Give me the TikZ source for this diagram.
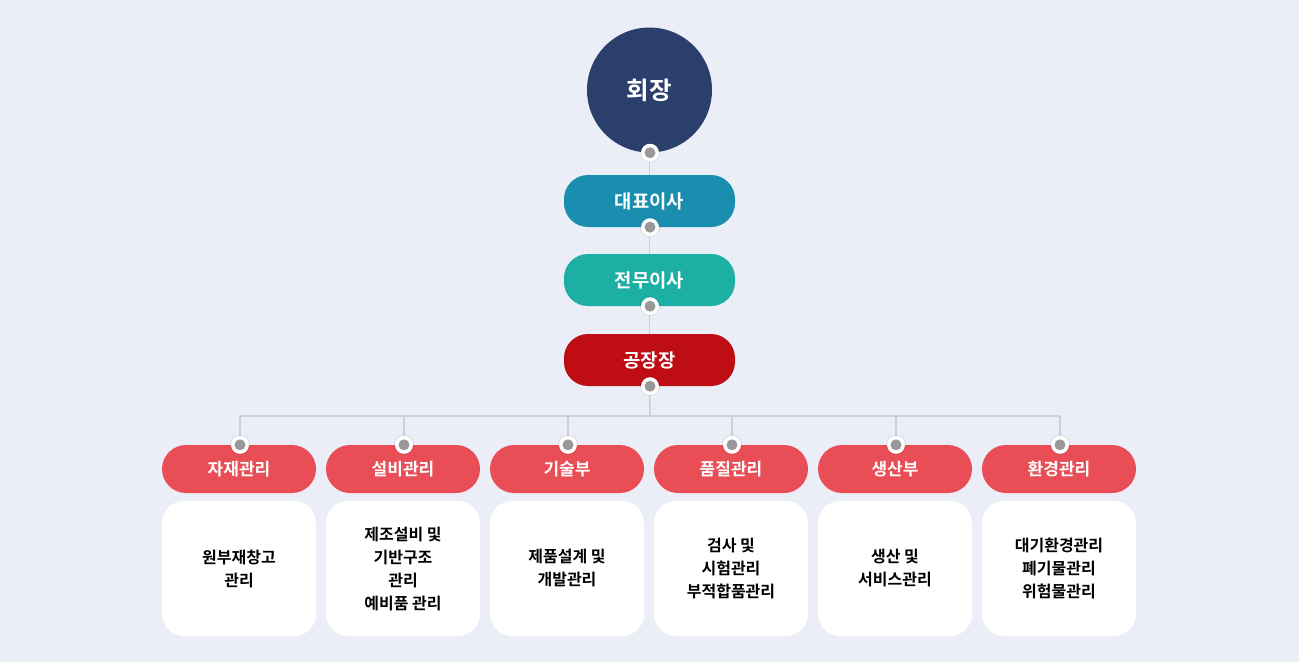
\documentclass[tikz,border=0pt]{standalone}
\usepackage{fontspec}
\newfontfamily\krb{Noto Sans CJK KR Bold}
\definecolor{bg}{HTML}{EBEEF6}
\definecolor{navy}{HTML}{2A3F6B}
\definecolor{ceo}{HTML}{1A8EAF}
\definecolor{exec}{HTML}{1BB0A3}
\definecolor{plant}{HTML}{BF0D16}
\definecolor{dept}{HTML}{E94E57}
\definecolor{conn}{HTML}{CDD0D8}
\pgfdeclarelayer{bglayer}
\pgfdeclarelayer{connlayer}
\pgfsetlayers{bglayer,connlayer,main}
\begin{document}
\begin{tikzpicture}[x=1pt,y=-1pt,
  chairbox/.style={circle, fill=navy, minimum size=125pt, inner sep=0pt, text=white, font=\krb\fontsize{24.5}{28}\selectfont},
  pill/.style={rounded corners=24pt, minimum width=171pt, minimum height=52pt, text=white, font=\krb\fontsize{18.8}{22}\selectfont, inner sep=0pt},
  deptbox/.style={rounded corners=24pt, minimum width=154pt, minimum height=48pt, text=white, font=\krb\fontsize{17}{20}\selectfont, inner sep=0pt, fill=dept},
  descbox/.style={rounded corners=22pt, minimum width=154pt, minimum height=135pt, fill=white, text=black, align=center, font=\krb\fontsize{16}{23}\selectfont, inner sep=0pt},
  link/.style={draw=conn, line width=1.6pt},
  ring/.pic={\fill[black,opacity=0.07] (0,0) circle (10pt);
             \fill[white] (0,0) circle (9pt);
             \fill[black,opacity=0.4] (0,0) circle (5.5pt);}
]
\begin{pgfonlayer}{bglayer}
\fill[bg] (0,0) rectangle (1299,662);
\end{pgfonlayer}
\useasboundingbox (0,0) rectangle (1299,662);

\node[chairbox] (chair) at (649.5,90) {회장};
\node[pill, fill=ceo] (ceo) at (649.5,201) {대표이사};
\node[pill, fill=exec] (exec) at (649.5,280) {전무이사};
\node[pill, fill=plant] (plant) at (649.5,360) {공장장};

\coordinate (hub) at (650,416);
\coordinate (hl) at (240,416);
\coordinate (hr) at (1060,416);

\foreach \i/\name/\desc in {0/자재관리/{원부재창고\\관리},
  1/설비관리/{제조설비 및\\기반구조\\관리\\예비품 관리},
  2/기술부/{제품설계 및\\개발관리},
  3/품질관리/{검사 및\\시험관리\\부적합품관리},
  4/생산부/{생산 및\\서비스관리},
  5/환경관리/{대기환경관리\\폐기물관리\\위험물관리}}{
  \node[deptbox] (d\i) at (239+164*\i,469) {\name};
  \node[descbox] (b\i) at (239+164*\i,568.5) {\desc};
  \coordinate (t\i) at (240+164*\i,416);
}

\begin{pgfonlayer}{connlayer}
\path[link] (chair.south) -- (ceo.north);
\path[link] (ceo.south) -- (exec.north);
\path[link] (exec.south) -- (plant.north);
\path[link] (plant.south) -- (hub);
\path[link] (hl) -- (hr);
\foreach \i in {0,...,5}{\path[link] (t\i) -- (t\i |- d\i.north);}
\end{pgfonlayer}

% ring dots
\path (chair.south) ++(0.5,0) pic{ring};
\path (ceo.south) ++(0.5,0) pic{ring};
\path (exec.south) ++(0.5,0) pic{ring};
\path (plant.south) ++(0.5,0) pic{ring};
\foreach \i in {0,...,5}{\path (t\i |- d\i.north) pic{ring};}
\end{tikzpicture}
\end{document}
